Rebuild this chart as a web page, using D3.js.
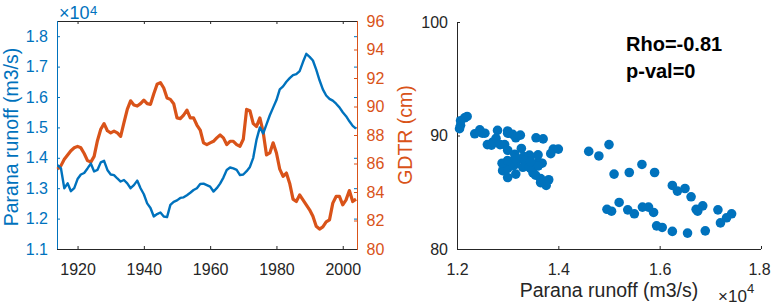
<!DOCTYPE html>
<html lang="en">
<head>
<meta charset="UTF-8">
<title>Parana runoff and GDTR</title>
<style>
  body { margin: 0; background: #fff; }
  svg text { font-family: "Liberation Sans", Arial, sans-serif; }
</style>
<script src="https://cdn.jsdelivr.net/npm/d3@7"></script>
</head>
<body>
<script>
// yearly values
const years = [1914,1915,1916,1917,1918,1919,1920,1921,1922,1923,1924,1925,1926,1927,1928,1929,
  1930,1931,1932,1933,1934,1935,1936,1937,1938,1939,1940,1941,1942,1943,1944,1945,1946,1947,1948,1949,
  1950,1951,1952,1953,1954,1955,1956,1957,1958,1959,1960,1961,1962,1963,1964,1965,1966,1967,1968,1969,
  1970,1971,1972,1973,1974,1975,1976,1977,1978,1979,1980,1981,1982,1983,1984,1985,1986,1987,1988,1989,
  1990,1991,1992,1993,1994,1995,1996,1997,1998,1999,2000,2001,2002,2003,2004]

// Parana runoff, x10^4 m3/s
const runoff = [1.376,1.365,1.300,1.316,1.290,1.300,1.330,1.345,1.350,1.365,1.381,1.355,1.360,1.385,1.390,1.360,
  1.345,1.343,1.332,1.322,1.327,1.316,1.300,1.310,1.325,1.300,1.280,1.250,1.235,1.207,1.215,1.220,1.207,1.205,1.245,1.255,
  1.260,1.268,1.270,1.277,1.285,1.294,1.300,1.314,1.315,1.310,1.305,1.289,1.300,1.315,1.335,1.360,1.368,1.365,1.360,1.343,
  1.345,1.356,1.370,1.400,1.460,1.500,1.480,1.510,1.540,1.565,1.590,1.625,1.635,1.650,1.662,1.672,1.675,1.685,1.715,1.742,
  1.732,1.720,1.690,1.655,1.625,1.605,1.594,1.588,1.578,1.566,1.550,1.537,1.520,1.505,1.496]

// GDTR, cm
const gdtr = [85.6,85.85,86.3,86.6,86.9,87.1,87.2,87.1,86.7,86.2,86.1,86.5,87.6,88.4,88.8,88.3,
  88.15,88.27,88.15,87.9,88.86,89.8,90.4,90.1,90.03,90.2,90.45,90.2,90.15,90.9,91.56,91.68,91.3,90.6,90.5,90.2,
  89.2,89.15,89.4,89.75,89.2,89.2,88.7,88.35,87.45,87.33,87.45,87.56,87.8,88.0,87.8,87.33,87.56,87.56,87.33,87.21,
  87.7,89.8,89.7,88.8,88.6,89.2,88.2,86.6,86.74,87.45,86.74,85.6,85.1,85.33,84.6,83.5,83.33,83.8,83.45,83.1,
  82.75,82.3,81.6,81.4,81.55,81.9,82.04,83.22,83.69,83.69,83.1,83.45,84.1,83.33,83.5]

const yearTicks = [1920, 1940, 1960, 1980, 2000]
const runoffTicks = [1.1, 1.2, 1.3, 1.4, 1.5, 1.6, 1.7, 1.8]
const gdtrTicks = [80, 82, 84, 86, 88, 90, 92, 94, 96]
const scatterXTicks = [1.2, 1.4, 1.6, 1.8]
const scatterYTicks = [80, 90, 100]
const statsText = ["Rho=-0.81", "p-val=0"]

const blue = "#0072BD"
const orange = "#D95319"
const grey = "#262626"

const svg = d3.select("body").append("svg")
  .attr("width", 771)
  .attr("height", 306)

// ---------- left panel: time series with two y axes
const L = {left: 57, right: 357, top: 21, bottom: 249}

const x = d3.scaleLinear().domain([1913.8, 2004.3]).range([L.left, L.right])
const yRun = d3.scaleLinear().domain([1.1, 1.85]).range([L.bottom, L.top])
const yG = d3.scaleLinear().domain([80, 96]).range([L.bottom, L.top])

const tickFont = "16px"

function styleAxis(g, color) {
  g.select(".domain").remove()
  g.selectAll(".tick line").attr("stroke", color)
  g.selectAll(".tick text").attr("fill", color).style("font-size", tickFont)
}

// bottom years
svg.append("g")
  .attr("transform", "translate(0," + L.bottom + ")")
  .call(d3.axisBottom(x).tickValues(yearTicks).tickSize(-3).tickPadding(14.5).tickFormat(d3.format("d")))
  .call(g => styleAxis(g, grey))

// top ticks only
svg.append("g")
  .attr("transform", "translate(0," + L.top + ")")
  .call(d3.axisTop(x).tickValues(yearTicks).tickSize(-3).tickFormat(""))
  .call(g => styleAxis(g, grey))

// left runoff axis
svg.append("g")
  .attr("transform", "translate(" + L.left + ",0)")
  .call(d3.axisLeft(yRun).tickValues(runoffTicks).tickSize(-3).tickPadding(9).tickFormat(d3.format(".1f")))
  .call(g => styleAxis(g, blue))

// mirrored runoff ticks at right side
svg.append("g")
  .attr("transform", "translate(" + L.right + ",0)")
  .call(d3.axisRight(yRun).tickValues(runoffTicks.slice(1)).tickSize(-3).tickFormat(""))
  .call(g => styleAxis(g, blue))

// right GDTR axis
svg.append("g")
  .attr("transform", "translate(" + L.right + ",0)")
  .call(d3.axisRight(yG).tickValues(gdtrTicks).tickSize(-3).tickPadding(9.5).tickFormat(d3.format("d")))
  .call(g => styleAxis(g, orange))

// box lines
svg.append("line").attr("x1", L.left).attr("x2", L.right).attr("y1", L.top + 0.5).attr("y2", L.top + 0.5).attr("stroke", grey)
svg.append("line").attr("x1", L.left).attr("x2", L.right).attr("y1", L.bottom + 0.5).attr("y2", L.bottom + 0.5).attr("stroke", grey)
svg.append("line").attr("x1", L.left + 0.5).attr("x2", L.left + 0.5).attr("y1", L.top).attr("y2", L.bottom).attr("stroke", blue)
svg.append("line").attr("x1", L.right + 0.5).attr("x2", L.right + 0.5).attr("y1", L.top).attr("y2", L.bottom + 1).attr("stroke", orange)

// lines
svg.append("path")
  .datum(gdtr)
  .attr("fill", "none")
  .attr("stroke", orange)
  .attr("stroke-width", 3.2)
  .attr("stroke-linejoin", "round")
  .attr("d", d3.line().x((d, i) => x(years[i])).y(d => yG(d)))

svg.append("path")
  .datum(runoff)
  .attr("fill", "none")
  .attr("stroke", blue)
  .attr("stroke-width", 2.4)
  .attr("stroke-linejoin", "round")
  .attr("d", d3.line().x((d, i) => x(years[i])).y(d => yRun(d)))

// axis labels
svg.append("text")
  .attr("transform", "translate(18," + 137 + ") rotate(-90)")
  .attr("text-anchor", "middle")
  .attr("fill", blue)
  .style("font-size", "19.5px")
  .text("Parana runoff (m3/s)")

svg.append("text")
  .attr("transform", "translate(412," + 135 + ") rotate(-90)")
  .attr("text-anchor", "middle")
  .attr("fill", orange)
  .style("font-size", "19.5px")
  .text("GDTR (cm)")

// exponent
svg.append("text").attr("x", 59).attr("y", 18.5).attr("fill", blue).style("font-size", "18px").text("×10")
svg.append("text").attr("x", 90).attr("y", 14.5).attr("fill", blue).style("font-size", "13px").text("4")

// ---------- right panel: scatter
const R = {left: 457, right: 761, top: 22, bottom: 249}
const sx = d3.scaleLinear().domain([1.2, 1.8]).range([R.left, R.right])
const sy = d3.scaleLinear().domain([80, 100]).range([R.bottom, R.top])

svg.append("g")
  .attr("transform", "translate(0," + R.bottom + ")")
  .call(d3.axisBottom(sx).tickValues(scatterXTicks).tickSize(-3).tickPadding(14.5).tickFormat(d3.format(".1f")))
  .call(g => styleAxis(g, grey))
  .call(g => g.selectAll(".tick text").filter(d => d === 1.8).attr("dx", -2))

svg.append("g")
  .attr("transform", "translate(" + R.left + ",0)")
  .call(d3.axisLeft(sy).tickValues(scatterYTicks).tickSize(-3).tickPadding(9).tickFormat(d3.format("d")))
  .call(g => styleAxis(g, grey))

svg.append("line").attr("x1", R.left).attr("x2", R.right).attr("y1", R.bottom + 0.5).attr("y2", R.bottom + 0.5).attr("stroke", grey)
svg.append("line").attr("x1", R.left + 0.5).attr("x2", R.left + 0.5).attr("y1", R.top).attr("y2", R.bottom).attr("stroke", grey)

svg.selectAll(".dot")
  .data(runoff)
  .join("circle")
  .attr("class", "dot")
  .attr("cx", d => sx(d))
  .attr("cy", (d, i) => sy(gdtr[i]))
  .attr("r", 4.8)
  .attr("fill", blue)

svg.selectAll(".stat")
  .data(statsText)
  .join("text")
  .attr("class", "stat")
  .attr("x", 626)
  .attr("y", (d, i) => 51 + i * 26.5)
  .attr("fill", "#000")
  .style("font-size", "20px")
  .style("font-weight", "bold")
  .text(d => d)

svg.append("text")
  .attr("x", (R.left + R.right) / 2)
  .attr("y", 297)
  .attr("text-anchor", "middle")
  .attr("fill", grey)
  .style("font-size", "19.5px")
  .text("Parana runoff (m3/s)")

svg.append("text").attr("x", 718).attr("y", 301.5).attr("fill", grey).style("font-size", "17px").text("×10")
svg.append("text").attr("x", 747).attr("y", 293).attr("fill", grey).style("font-size", "13px").text("4")
</script>
</body>
</html>
